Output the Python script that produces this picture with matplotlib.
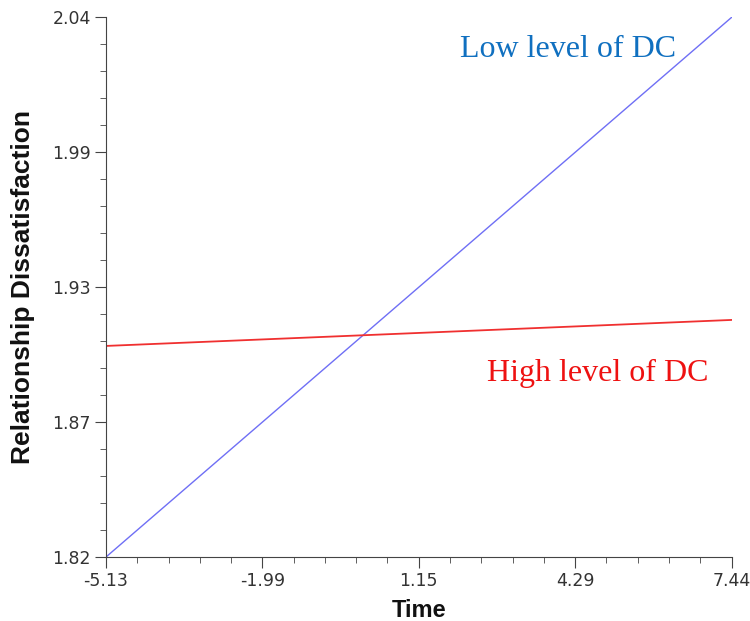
import matplotlib.pyplot as plt
from matplotlib.ticker import AutoMinorLocator

# data
time = [-5.13, 7.44]
low_dc = [1.82, 2.04]
high_dc = [1.906, 1.9166]

x_ticks = [-5.13, -1.99, 1.15, 4.29, 7.44]
x_labels = ['-5.13', '-1.99', '1.15', '4.29', '7.44']
y_ticks = [1.82, 1.875, 1.93, 1.985, 2.04]
y_labels = ['1.82', '1.87', '1.93', '1.99', '2.04']

fig = plt.figure(figsize=(7.5, 6.21), dpi=100)
ax = fig.add_axes([0.1413, 0.103, 0.8347, 0.8696])

ax.plot(time, low_dc, color='#6f6ff5', lw=1.0)
ax.plot(time, high_dc, color='#f03030', lw=1.3)

ax.set_xlim(-5.13, 7.44)
ax.set_ylim(1.82, 2.04)
ax.set_xticks(x_ticks)
ax.set_xticklabels(x_labels)
ax.set_yticks(y_ticks)
ax.set_yticklabels(y_labels)
ax.xaxis.set_minor_locator(AutoMinorLocator(5))
ax.yaxis.set_minor_locator(AutoMinorLocator(5))

for s in ['top', 'right']:
    ax.spines[s].set_visible(False)
for s in ['left', 'bottom']:
    ax.spines[s].set_color('#444444')
ax.tick_params(which='major', length=8, color='#444444', labelsize=12.5,
               labelcolor='#333333', labelfontfamily='DejaVu Sans', pad=3)
ax.tick_params(which='minor', length=4, color='#444444')

ax.set_xlabel('Time', fontsize=17, fontweight='bold', family='Liberation Sans',
              color='#111111', labelpad=6)
ax.set_ylabel('Relationship Dissatisfaction', fontsize=19, fontweight='bold',
              family='Liberation Sans', color='#111111', labelpad=12)

ax.text(0.738, 0.94, 'Low level of DC', transform=ax.transAxes, ha='center',
        va='center', fontsize=23, family='Liberation Serif', color='#1070c0')
ax.text(0.785, 0.34, 'High level of DC', transform=ax.transAxes, ha='center',
        va='center', fontsize=23, family='Liberation Serif', color='#ee1111')

fig.savefig('out.png', dpi=100)
